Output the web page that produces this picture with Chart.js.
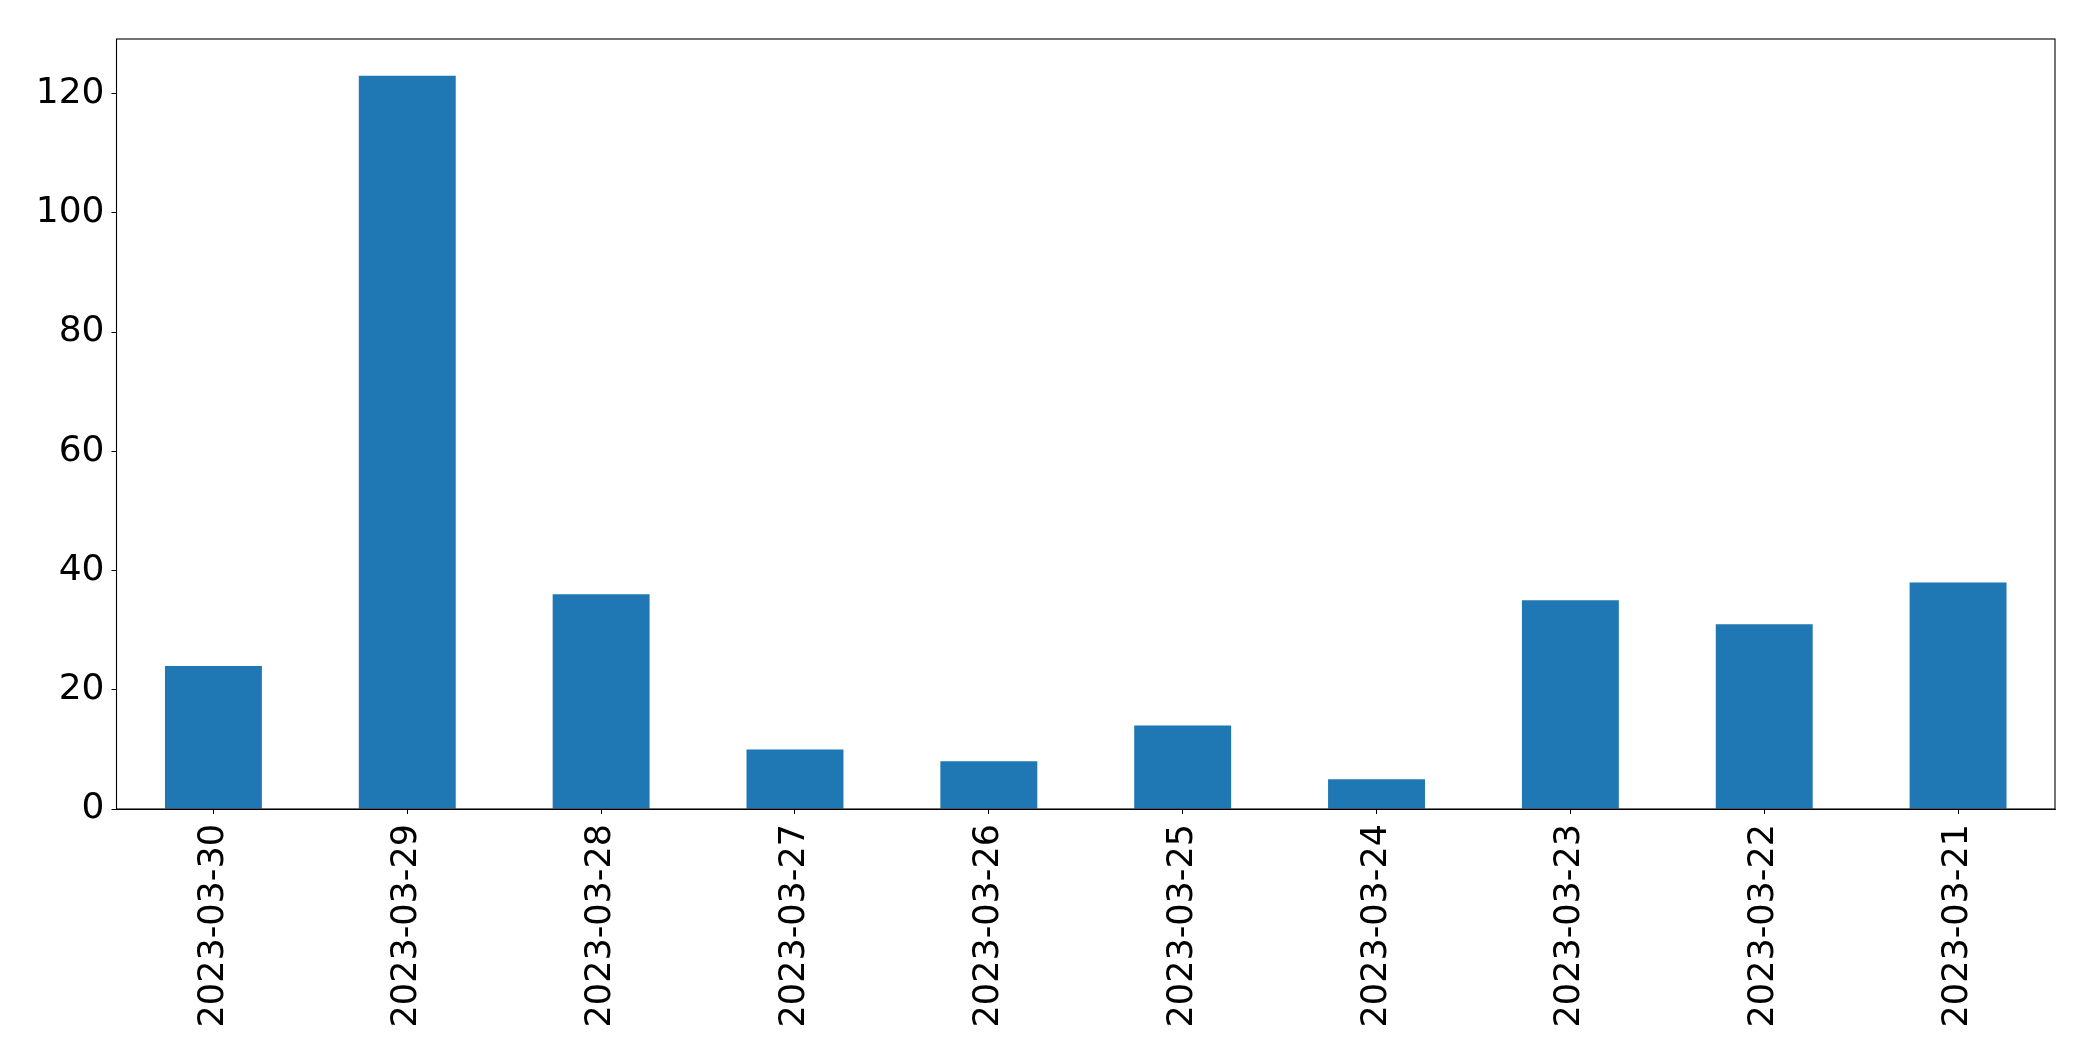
<!DOCTYPE html>
<html lang="en">
<head>
    <meta charset="UTF-8">
    <title>Daily counts</title>
    <script src="https://cdn.jsdelivr.net/npm/chart.js"></script>
    <style>
        body {
            margin: 0;
            background: #ffffff;
        }
        canvas {
            display: block;
        }
    </style>
</head>
<body>
    <canvas id="barChart" width="2093" height="1061"></canvas>

    <script>
        // data
        const dates = ["2023-03-30", "2023-03-29", "2023-03-28", "2023-03-27", "2023-03-26",
                       "2023-03-25", "2023-03-24", "2023-03-23", "2023-03-22", "2023-03-21"];
        const counts = [24, 123, 36, 10, 8, 14, 5, 35, 31, 38];
        const yTicks = [0, 20, 40, 60, 80, 100, 120];

        // matplotlib style box round the plot area
        const frame = {
            id: 'frame',
            afterDraw(chart) {
                let a = chart.chartArea;
                let ctx = chart.ctx;
                ctx.save();
                ctx.strokeStyle = '#000';
                ctx.lineWidth = 1.1;
                ctx.strokeRect(a.left, a.top, a.right - a.left, a.bottom - a.top);
                ctx.restore();
            }
        };

        let ctx = document.getElementById('barChart').getContext('2d');
        new Chart(ctx, {
            type: 'bar',
            data: {
                labels: dates,
                datasets: [{
                    data: counts,
                    backgroundColor: '#1f77b4',
                    barPercentage: 0.5,
                    categoryPercentage: 1.0
                }]
            },
            options: {
                responsive: false,
                animation: false,
                layout: {
                    padding: { top: 39, right: 38, left: 0, bottom: 0 }
                },
                plugins: {
                    legend: { display: false },
                    tooltip: { enabled: false }
                },
                scales: {
                    x: {
                        offset: true,
                        grid: { offset: false, drawOnChartArea: false, drawTicks: true, tickLength: 5, color: '#000' },
                        border: { color: '#000', width: 1 },
                        ticks: {
                            minRotation: 90,
                            maxRotation: 90,
                            autoSkip: false,
                            padding: 10,
                            color: '#000',
                            font: { family: 'DejaVu Sans', size: 35 }
                        },
                        afterFit(scale) { scale.height = 252; }
                    },
                    y: {
                        min: 0,
                        max: 129.15,
                        grid: { drawOnChartArea: false, drawTicks: true, tickLength: 5, color: '#000' },
                        border: { color: '#000', width: 1 },
                        afterBuildTicks(scale) {
                            scale.ticks = yTicks.map(v => ({ value: v }));
                        },
                        ticks: {
                            padding: 7,
                            color: '#000',
                            font: { family: 'DejaVu Sans', size: 36 }
                        },
                        afterFit(scale) { scale.width = 116.5; }
                    }
                }
            },
            plugins: [frame]
        });
    </script>
</body>
</html>
